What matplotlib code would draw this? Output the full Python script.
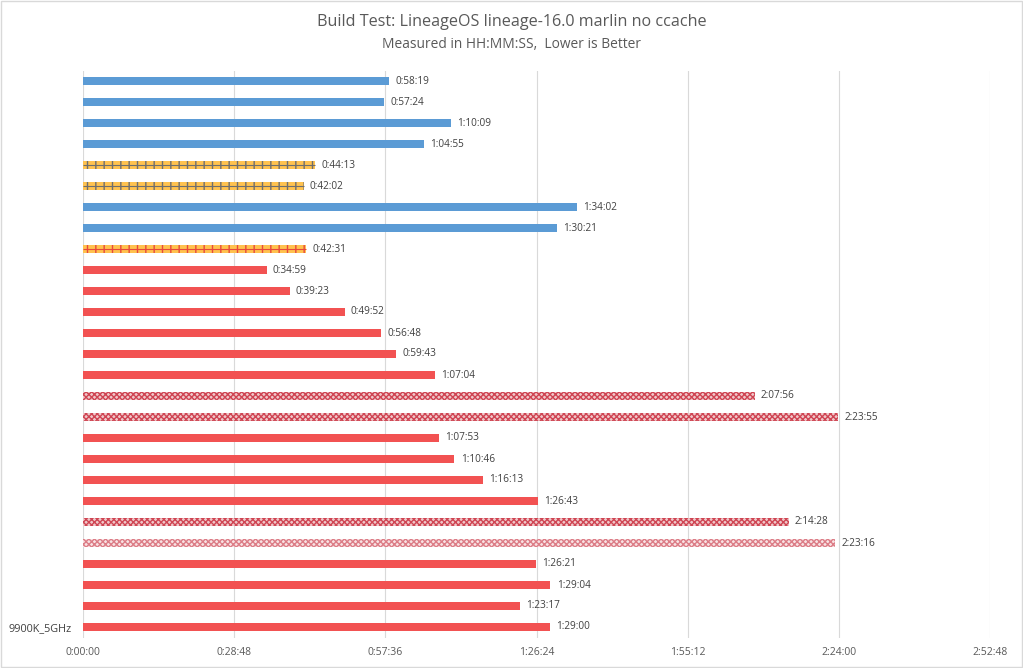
import matplotlib.pyplot as plt
from matplotlib.ticker import FixedLocator, FuncFormatter

plt.rcParams['font.family'] = ['Open Sans', 'DejaVu Sans']
plt.rcParams['hatch.linewidth'] = 1.0

# Ergebnisse von oben nach unten
labels = [''] * 26 + ['9900K_5GHz']
times = ['0:58:19', '0:57:24', '1:10:09', '1:04:55', '0:44:13', '0:42:02',
         '1:34:02', '1:30:21', '0:42:31', '0:34:59', '0:39:23', '0:49:52',
         '0:56:48', '0:59:43', '1:07:04', '2:07:56', '2:23:55', '1:07:53',
         '1:10:46', '1:16:13', '1:26:43', '2:14:28', '2:23:16', '1:26:21',
         '1:29:04', '1:23:17', '1:29:00']
# b = blau, y = gelb (grauer Rand), yr = gelb (roter Rand), r = rot, c = kariert, cl = kariert hell
kinds = ['b', 'b', 'b', 'b', 'y', 'y', 'b', 'b', 'yr', 'r', 'r', 'r', 'r', 'r',
         'r', 'c', 'c', 'r', 'r', 'r', 'r', 'c', 'cl', 'r', 'r', 'r', 'r']


def to_sec(t):
    h, m, s = t.split(':')
    return int(h) * 3600 + int(m) * 60 + int(s)


def fmt(v, pos=None):
    v = int(round(v))
    return f"{v // 3600}:{v % 3600 // 60:02d}:{v % 60:02d}"


styles = {
    'b': dict(color='#5B9BD5'),
    'r': dict(color='#F25252'),
    'y': dict(facecolor='#FFC24F', edgecolor='#6E6E6E', hatch='||', linewidth=0),
    'yr': dict(facecolor='#FFC24F', edgecolor='#E8493C', hatch='||', linewidth=0),
    'c': dict(facecolor='#F0C8CA', edgecolor='#CF4553', hatch='xxxxxx', linewidth=0),
    'cl': dict(facecolor='#F8E2E3', edgecolor='#DC7D87', hatch='xxxxxx', linewidth=0),
}

values = [to_sec(t) for t in times]
ypos = list(range(len(values)))

fig = plt.figure(figsize=(10.23, 6.68), dpi=100)
ax = fig.add_axes([83 / 1023, 1 - 637.5 / 668, 907 / 1023, 567 / 668])

for y, v, k, t in zip(ypos, values, kinds, times):
    ax.barh(y, v, height=0.34, **styles[k])
    if k in ('y', 'yr'):
        # Mittellinie wie im Original
        ax.hlines(y, 0, v, color=styles[k]['edgecolor'], linewidth=0.8)
    ax.annotate(t, (v, y), xytext=(4.5, 0), textcoords='offset points',
                va='center', ha='left', fontsize=7.2, color='#404040')

ax.set_ylim(len(values) - 0.5, -0.5)
ax.set_yticks(ypos)
ax.set_yticklabels(labels, fontsize=7.8, color='#404040')
ax.set_xlim(0, 10368)
ax.xaxis.set_major_locator(FixedLocator([i * 1728 for i in range(7)]))
ax.xaxis.set_major_formatter(FuncFormatter(fmt))
ax.tick_params(axis='x', labelsize=7.5, colors='#595959', length=0, pad=7)
ax.tick_params(axis='y', length=0, pad=8)
ax.grid(axis='x', color='#D9D9D9', linewidth=0.8)
ax.set_axisbelow(True)
for s in ax.spines.values():
    s.set_visible(False)

fig.text(0.5, 0.967, 'Build Test: LineageOS lineage-16.0 marlin no ccache',
         ha='center', va='center', fontsize=11.6, color='#595959')
fig.text(0.5, 0.933, 'Measured in HH:MM:SS,  Lower is Better',
         ha='center', va='center', fontsize=9.9, color='#595959')

# Rahmen um die Grafik
fig.patches.append(plt.Rectangle((0.001, 0.001), 0.998, 0.998, transform=fig.transFigure,
                                 fill=False, edgecolor='#D9D9D9', linewidth=1))

fig.savefig('out.png', dpi=100)
